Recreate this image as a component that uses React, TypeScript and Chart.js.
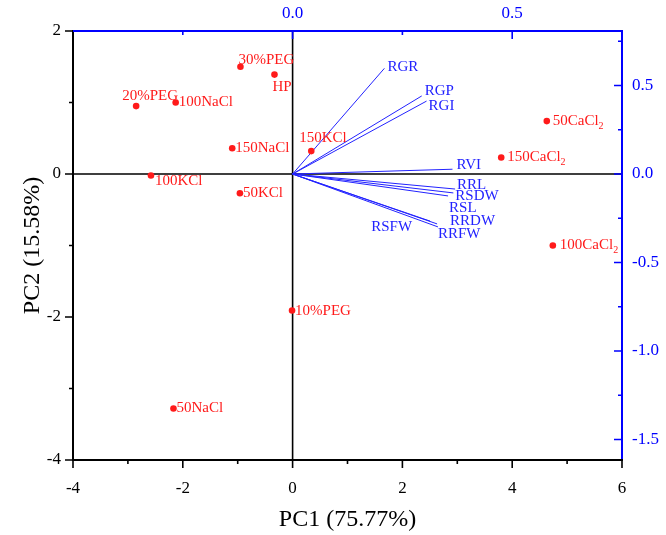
import React, { useEffect, useRef } from "react";
import { Chart, registerables } from "chart.js";

Chart.register(...registerables);

// ---- Data ----
const sampleNames = ["30%PEG", "HP", "20%PEG", "100NaCl", "150NaCl", "100KCl", "50KCl", "150KCl", "10%PEG", "50NaCl", "50CaCl2", "150CaCl2", "100CaCl2"];
const pc1Scores = [-0.95, -0.33, -2.85, -2.13, -1.10, -2.58, -0.96, 0.34, -0.01, -2.17, 4.63, 3.80, 4.74];
const pc2Scores = [1.50, 1.39, 0.95, 1.00, 0.36, -0.02, -0.27, 0.32, -1.91, -3.28, 0.74, 0.23, -1.00];

const traitNames = ["RGR", "RGP", "RGI", "RVI", "RRL", "RSDW", "RSL", "RRDW", "RRFW", "RSFW"];
const pc1Loadings = [0.209, 0.294, 0.305, 0.364, 0.370, 0.366, 0.354, 0.329, 0.331, 0.313];
const pc2Loadings = [0.597, 0.441, 0.412, 0.027, -0.085, -0.107, -0.124, -0.282, -0.299, -0.266];

const pc1Major = [-4, -2, 0, 2, 4, 6];
const pc1Minor = [-3, -1, 1, 3, 5];
const pc2Major = [-4, -2, 0, 2];
const pc2Minor = [-3, -1, 1];
const load1Major = [0, 0.5];
const load1Minor = [-0.25, 0.25, 0.75];
const load2Major = [-1.5, -1.0, -0.5, 0, 0.5];
const load2Minor = [-1.25, -0.75, -0.25, 0.25, 0.75];

const xTitle = "PC1 (75.77%)";
const yTitle = "PC2 (15.58%)";

// ---- Styling ----
const FONT = '"Liberation Serif", "Times New Roman", serif';
const RED = "#ff1a1a";
const BLUE = "#2222ff";
const AXIS_BLUE = "#0000ff";

// label offsets (dx from mark to text start, dy to text middle, align)
const sampleLabelOffsets: [number, number, CanvasTextAlign][] = [
  [-2, -7, "left"],
  [-2, 12, "left"],
  [-14, -10, "left"],
  [3, 0, "left"],
  [3, 0, "left"],
  [4, 6, "left"],
  [3, 0, "left"],
  [-12, -13, "left"],
  [3, 0, "left"],
  [3, 0, "left"],
  [6, 0, "left"],
  [6, 0, "left"],
  [7, 0, "left"],
];
const traitLabelOffsets: [number, number, CanvasTextAlign][] = [
  [3, -1, "left"],
  [3, -5, "left"],
  [2, 5, "left"],
  [4, -4, "left"],
  [2, -4, "left"],
  [2, 3, "left"],
  [1, 12, "left"],
  [13, -3, "left"],
  [0, 7, "left"],
  [-18, 6, "right"],
];

function drawLabel(ctx: CanvasRenderingContext2D, text: string, x: number, y: number, align: CanvasTextAlign, color: string) {
  ctx.save();
  ctx.fillStyle = color;
  ctx.textBaseline = "middle";
  ctx.font = `15px ${FONT}`;
  const m = text.match(/^(.*Cl)2$/);
  if (m) {
    const main = m[1];
    const wMain = ctx.measureText(main).width;
    ctx.font = `10px ${FONT}`;
    const wSub = ctx.measureText("2").width;
    const total = wMain + wSub;
    const x0 = align === "right" ? x - total : align === "center" ? x - total / 2 : x;
    ctx.textAlign = "left";
    ctx.font = `15px ${FONT}`;
    ctx.fillText(main, x0, y);
    ctx.font = `10px ${FONT}`;
    ctx.fillText("2", x0 + wMain, y + 5);
  } else {
    ctx.textAlign = align;
    ctx.fillText(text, x, y);
  }
  ctx.restore();
}

const near = (a: number, b: number) => Math.abs(a - b) < 1e-6;

export default function App() {
  const ref = useRef<HTMLCanvasElement | null>(null);

  useEffect(() => {
    const canvas = ref.current;
    if (!canvas) return;

    const scoreData = pc1Scores.map((x, i) => ({ x, y: pc2Scores[i] }));
    const vectorSets = traitNames.map((name, i) => ({
      label: name,
      data: [{ x: 0, y: 0 }, { x: pc1Loadings[i], y: pc2Loadings[i] }],
      xAxisID: "x2",
      yAxisID: "y2",
      showLine: true,
      borderColor: BLUE,
      borderWidth: 1,
      pointRadius: 0,
      fill: false,
    }));

    const decor = {
      id: "biplotDecor",
      beforeDatasetsDraw(chart: any) {
        const { ctx, chartArea: a, scales } = chart;
        const x0 = scales.x.getPixelForValue(0);
        const y0 = scales.y.getPixelForValue(0);
        ctx.save();
        ctx.strokeStyle = "#000";
        ctx.lineWidth = 1.6;
        ctx.beginPath();
        ctx.moveTo(a.left, y0);
        ctx.lineTo(a.right, y0);
        ctx.moveTo(x0, a.top);
        ctx.lineTo(x0, a.bottom);
        ctx.stroke();
        ctx.restore();
      },
      afterDatasetsDraw(chart: any) {
        const { ctx, chartArea: a, scales } = chart;
        sampleNames.forEach((name, i) => {
          const px = scales.x.getPixelForValue(pc1Scores[i]);
          const py = scales.y.getPixelForValue(pc2Scores[i]);
          const [dx, dy, al] = sampleLabelOffsets[i];
          drawLabel(ctx, name, px + dx, py + dy, al, RED);
        });
        traitNames.forEach((name, i) => {
          const px = scales.x2.getPixelForValue(pc1Loadings[i]);
          const py = scales.y2.getPixelForValue(pc2Loadings[i]);
          const [dx, dy, al] = traitLabelOffsets[i];
          drawLabel(ctx, name, px + dx, py + dy, al, BLUE);
        });

        // axis frame
        ctx.save();
        ctx.lineWidth = 2;
        ctx.strokeStyle = "#000";
        ctx.beginPath();
        ctx.moveTo(a.left, a.top - 1);
        ctx.lineTo(a.left, a.bottom + 1);
        ctx.moveTo(a.left - 1, a.bottom);
        ctx.lineTo(a.right + 1, a.bottom);
        ctx.stroke();
        ctx.strokeStyle = AXIS_BLUE;
        ctx.beginPath();
        ctx.moveTo(a.left, a.top);
        ctx.lineTo(a.right + 1, a.top);
        ctx.moveTo(a.right, a.top - 1);
        ctx.lineTo(a.right, a.bottom - 1);
        ctx.stroke();

        // tick marks
        const MAJ = 8, MIN = 4;
        ctx.lineWidth = 1.6;
        const hTicks = (scale: any, vals: number[], len: number, y: number, dir: number, color: string) => {
          ctx.strokeStyle = color;
          ctx.beginPath();
          vals.forEach((v) => {
            const px = scale.getPixelForValue(v);
            ctx.moveTo(px, y);
            ctx.lineTo(px, y + dir * len);
          });
          ctx.stroke();
        };
        const vTicks = (scale: any, vals: number[], len: number, x: number, dir: number, color: string) => {
          ctx.strokeStyle = color;
          ctx.beginPath();
          vals.forEach((v) => {
            const py = scale.getPixelForValue(v);
            ctx.moveTo(x, py);
            ctx.lineTo(x + dir * len, py);
          });
          ctx.stroke();
        };
        hTicks(scales.x, pc1Major, MAJ, a.bottom, 1, "#000");
        hTicks(scales.x, pc1Minor, MIN, a.bottom, 1, "#000");
        vTicks(scales.y, pc2Major, MAJ, a.left, -1, "#000");
        vTicks(scales.y, pc2Minor, MIN, a.left, -1, "#000");
        hTicks(scales.x2, load1Major, MAJ, a.top, 1, AXIS_BLUE);
        hTicks(scales.x2, load1Minor, MIN, a.top, 1, AXIS_BLUE);
        vTicks(scales.y2, load2Major.filter((v) => v < 0.8), MAJ, a.right, -1, AXIS_BLUE);
        vTicks(scales.y2, load2Minor.filter((v) => v < 0.8), MIN, a.right, -1, AXIS_BLUE);
        ctx.restore();
      },
    };

    const tickFont = { family: FONT, size: 17 };
    const chart = new Chart(canvas, {
      type: "scatter",
      data: {
        datasets: [
          {
            label: "scores",
            data: scoreData,
            xAxisID: "x",
            yAxisID: "y",
            pointRadius: 3.3,
            pointBackgroundColor: RED,
            pointBorderWidth: 0,
            showLine: false,
          } as any,
          ...vectorSets,
        ],
      },
      options: {
        animation: false,
        responsive: false,
        devicePixelRatio: 1,
        layout: { padding: 0 },
        plugins: { legend: { display: false }, tooltip: { enabled: false } },
        scales: {
          x: {
            type: "linear",
            position: "bottom",
            min: -4,
            max: 6,
            afterFit: (s: any) => { s.height = 75; },
            afterBuildTicks: (s: any) => { s.ticks = pc1Major.map((value) => ({ value })); },
            grid: { display: false, drawTicks: false },
            border: { display: false },
            ticks: { color: "#000", font: tickFont, padding: 18, maxRotation: 0, autoSkip: false, callback: (v: any) => String(v) },
            title: { display: true, text: xTitle, color: "#000", font: { family: FONT, size: 24 }, padding: { top: 0, bottom: 1 } },
          },
          y: {
            type: "linear",
            position: "left",
            min: -4,
            max: 2,
            afterFit: (s: any) => { s.width = 73; },
            afterBuildTicks: (s: any) => { s.ticks = pc2Major.map((value) => ({ value })); },
            grid: { display: false, drawTicks: false },
            border: { display: false },
            ticks: { color: "#000", font: tickFont, padding: 12, autoSkip: false, callback: (v: any) => String(v) },
            title: { display: true, text: yTitle, color: "#000", font: { family: FONT, size: 24 }, padding: { top: 18, bottom: 0 } },
          },
          x2: {
            type: "linear",
            position: "top",
            min: -0.5,
            max: 0.75,
            afterFit: (s: any) => { s.height = 31; },
            afterBuildTicks: (s: any) => { s.ticks = load1Major.map((value) => ({ value })); },
            grid: { display: false, drawTicks: false },
            border: { display: false },
            ticks: { color: AXIS_BLUE, font: tickFont, padding: 7, maxRotation: 0, autoSkip: false, callback: (v: any) => (near(v, 0) ? "0.0" : Number(v).toFixed(1)) },
          },
          y2: {
            type: "linear",
            position: "right",
            min: -1.616,
            max: 0.808,
            afterFit: (s: any) => { s.width = 44; },
            afterBuildTicks: (s: any) => { s.ticks = load2Major.map((value) => ({ value })); },
            grid: { display: false, drawTicks: false },
            border: { display: false },
            ticks: { color: AXIS_BLUE, font: tickFont, padding: 10, autoSkip: false, callback: (v: any) => (near(v, 0) ? "0.0" : Number(v).toFixed(1)) },
          },
        },
      } as any,
      plugins: [decor],
    });

    return () => chart.destroy();
  }, []);

  return (
    <div style={{ position: "fixed", left: 0, top: 0, width: 666, height: 535, background: "#fff" }}>
      <canvas ref={ref} width={666} height={535} style={{ display: "block", width: 666, height: 535 }} />
    </div>
  );
}
